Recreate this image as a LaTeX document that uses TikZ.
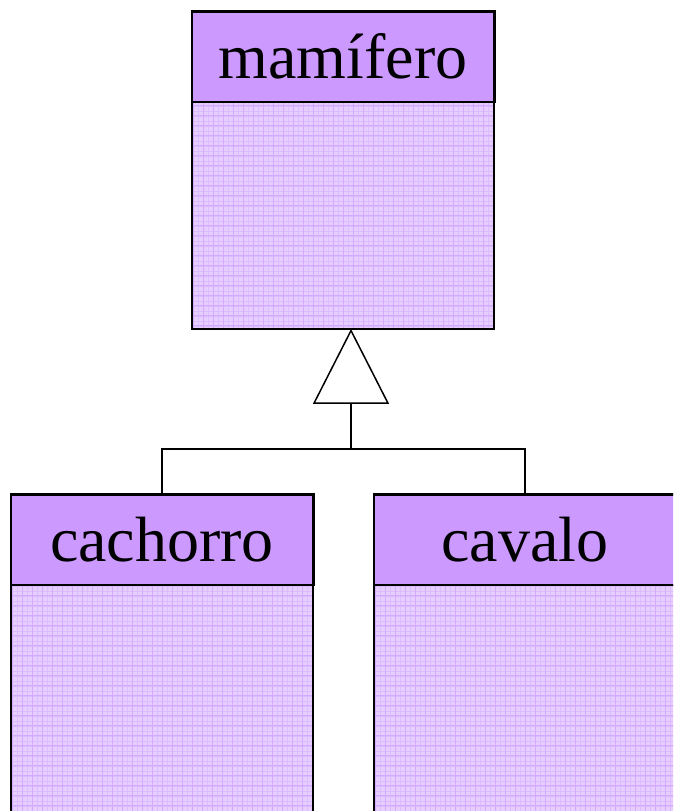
\documentclass[tikz,border=0pt]{standalone}
\usepackage{fontspec}
\setmainfont{Liberation Serif}
\usetikzlibrary{arrows.meta}
\definecolor{hdrfill}{HTML}{CC99FF}
\definecolor{bodyfill}{HTML}{E6CEFF}
\definecolor{gridline}{HTML}{D4AAFF}
\definecolor{gridfine}{HTML}{DCBBFF}
\tikzset{
  classname/.style={draw=black, line width=1.5pt, fill=hdrfill, inner sep=0pt,
    minimum width=302, minimum height=90, anchor=north,
    text height=44pt, text depth=-4pt,
    font=\fontsize{64}{70}\selectfont},
  classbody/.style={fill=bodyfill, inner sep=0pt, minimum width=302, anchor=north,
    path picture={
      \draw[gridfine, line width=0.4pt] (path picture bounding box.south west)
        grid[step=5pt] (path picture bounding box.north east);
      \draw[gridline, line width=0.9pt] (path picture bounding box.south west)
        grid[step=10pt] (path picture bounding box.north east);
    }},
  outline/.style={draw=black, line width=1.5pt},
  link/.style={draw=black, line width=1.5pt},
  generalization/.style={link, -{Triangle[open, length=75pt, width=76pt, fill=white]}},
}
\begin{document}
\begin{tikzpicture}[x=1pt, y=-1pt]
  \useasboundingbox (0,0) rectangle (673,811);
  \clip (0,0) rectangle (673,811);

  % superclass
  \node[classname] (mamH) at (343,11) {mamífero};
  \node[classbody, minimum height=226] (mamB) at (mamH.south) {};
  \draw[outline] (mamB.north west) rectangle (mamB.south east);

  % subclasses
  \node[classname] (cacH) at (162,494) {cachorro};
  \node[classbody, minimum height=240] (cacB) at (cacH.south) {};
  \draw[outline] (cacB.north west) rectangle (cacB.south east);

  \node[classname] (cavH) at (525,494) {cavalo};
  \node[classbody, minimum height=240] (cavB) at (cavH.south) {};
  \draw[outline] (cavB.north west) rectangle (cavB.south east);

  % redraw header outlines above the body grids
  \draw[outline] (mamH.north west) rectangle (mamH.south east);
  \draw[outline] (cacH.north west) rectangle (cacH.south east);
  \draw[outline] (cavH.north west) rectangle (cavH.south east);

  % inheritance connectors
  \coordinate (junc) at (351,449);
  \draw[link] (cacH.north) |- (junc) -| (cavH.north);
  \draw[generalization] (junc) -- (mamB.south -| junc);
\end{tikzpicture}
\end{document}
